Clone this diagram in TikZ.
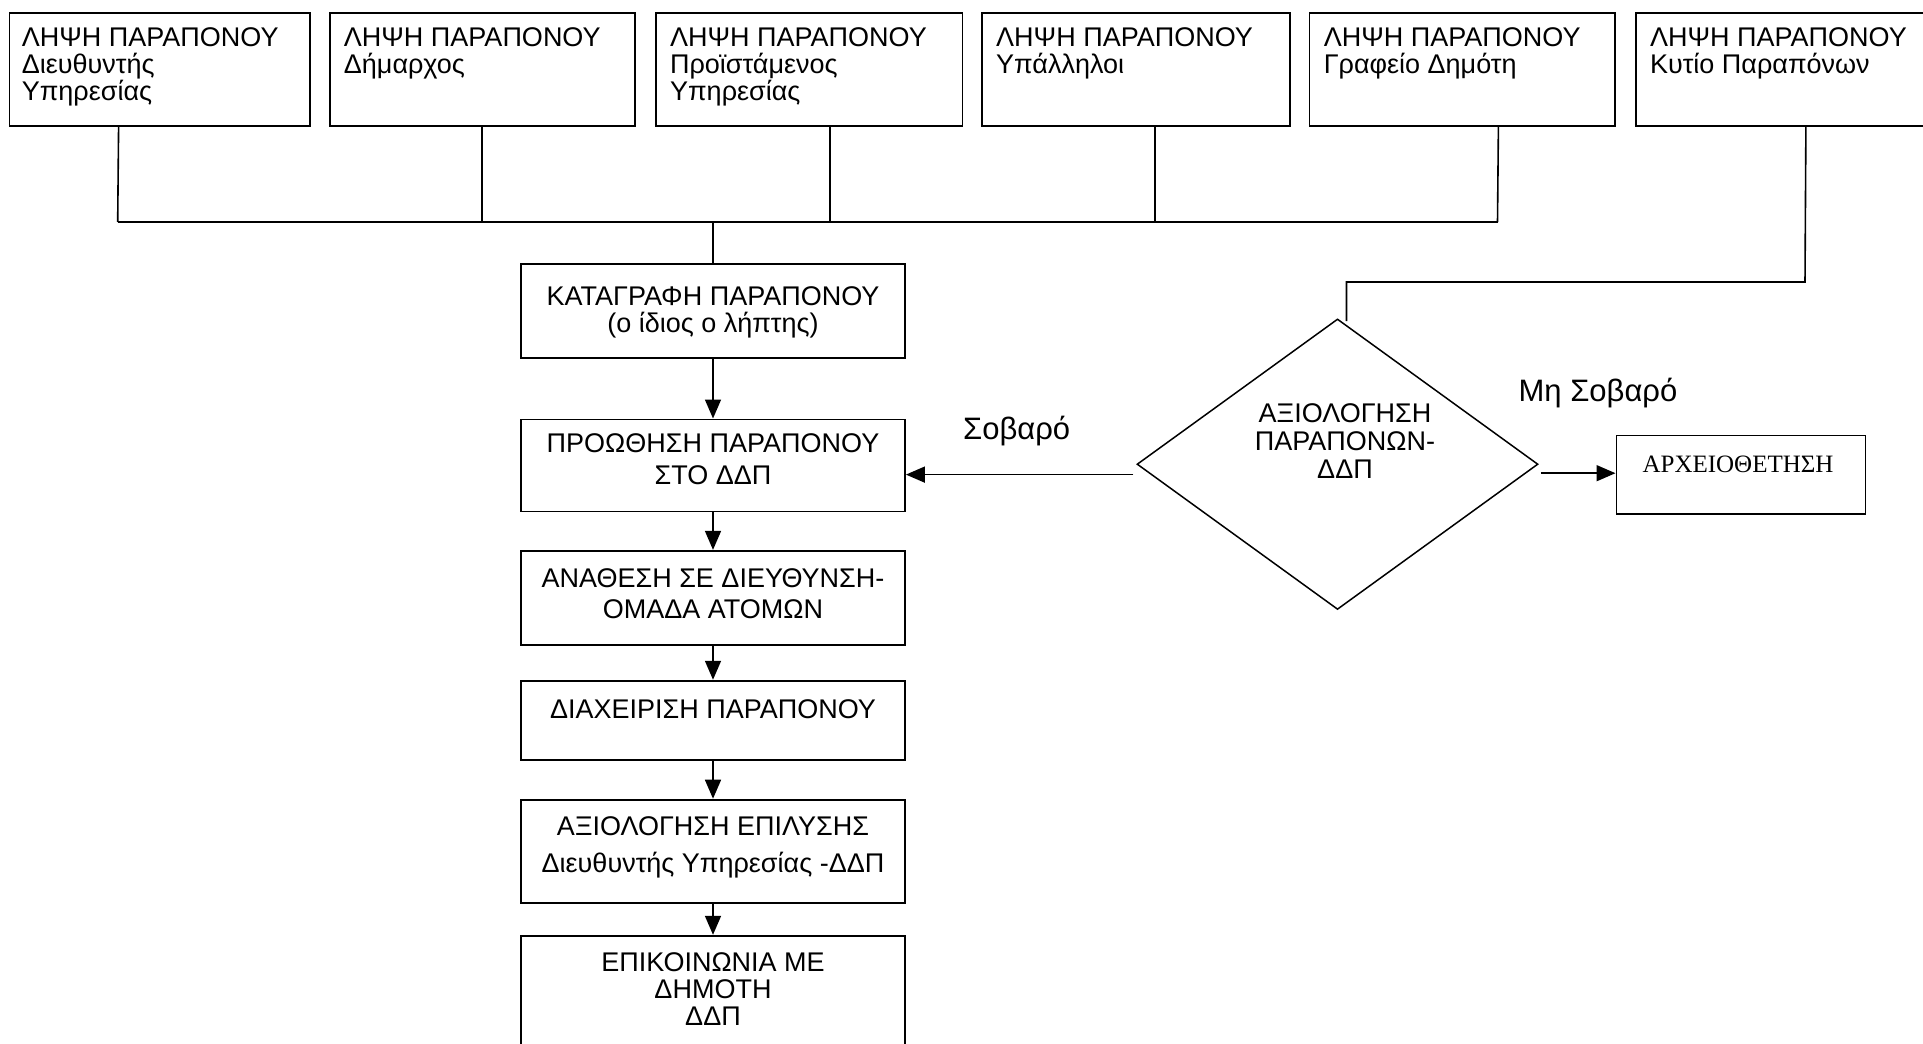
\documentclass[tikz,border=0pt]{standalone}
\usepackage{fontspec}
\setmainfont{Liberation Sans}
\newfontfamily\serifgr{Liberation Serif}
\usetikzlibrary{arrows.meta,shapes.geometric}
\begin{document}
\begin{tikzpicture}[x=1pt,y=-1pt,
  box/.style={draw,line width=1.8pt,inner sep=0pt,anchor=north west,minimum height=112.8pt},
  mbox/.style={draw,line width=1.8pt,inner sep=0pt,minimum width=384pt},
  txt/.style={inner sep=0pt,font=\fontsize{27}{27}\selectfont},
  ttxt/.style={txt,anchor=north west,align=left},
  mtxt/.style={txt,anchor=north,align=center},
  lbl/.style={inner sep=0pt,anchor=base,font=\fontsize{31}{31}\selectfont},
  conn/.style={line width=1.6pt},
  bus/.style={line width=2.4pt},
  arr/.style={line width=1.6pt,-{Triangle[length=19pt,width=16pt]}}]
\useasboundingbox (0,0) rectangle (1923,1044);
% top boxes
\node[box,minimum width=300.4pt] (r1) at (8.6,12.3) {};
\node[box,minimum width=305.3pt] (r2) at (328.7,12.3) {};
\node[box,minimum width=306.6pt] (r3) at (654.9,12.3) {};
\node[box,minimum width=308pt] (r4) at (981,12.3) {};
\node[box,minimum width=305.4pt] (r5) at (1308.6,12.3) {};
\node[box,minimum width=306pt] (r6) at (1634.8,12.3) {};
\node[ttxt] (t1) at ([xshift=13pt,yshift=-14.7pt]r1.north west) {ΛΗΨΗ ΠΑΡΑΠΟΝΟΥ\\Διευθυντής\\Υπηρεσίας};
\node[ttxt] (t2) at ([xshift=15pt,yshift=-14.7pt]r2.north west) {ΛΗΨΗ ΠΑΡΑΠΟΝΟΥ\\Δήμαρχος};
\node[ttxt] (t3) at ([xshift=15pt,yshift=-14.7pt]r3.north west) {ΛΗΨΗ ΠΑΡΑΠΟΝΟΥ\\Προϊστάμενος\\Υπηρεσίας};
\node[ttxt] (t4) at ([xshift=15pt,yshift=-14.7pt]r4.north west) {ΛΗΨΗ ΠΑΡΑΠΟΝΟΥ\\Υπάλληλοι};
\node[ttxt] (t5) at ([xshift=15pt,yshift=-14.7pt]r5.north west) {ΛΗΨΗ ΠΑΡΑΠΟΝΟΥ\\Γραφείο Δημότη};
\node[ttxt] (t6) at ([xshift=15pt,yshift=-14.7pt]r6.north west) {ΛΗΨΗ ΠΑΡΑΠΟΝΟΥ\\Κυτίο Παραπόνων};
% drop points
\coordinate (d1) at ([xshift=-41.1pt]r1.south);
\coordinate (d3) at ([xshift=20.8pt]r3.south);
\coordinate (d4) at ([xshift=19pt]r4.south);
\coordinate (d5) at ([xshift=36.2pt]r5.south);
\coordinate (d6) at ([xshift=17.2pt]r6.south);
\coordinate (b1) at (117.7,222);
\coordinate (b5) at (1497.5,222);
% main boxes
\node[mbox,minimum height=94.3pt] (k1) at (713,310.9) {};
\node[mbox,minimum height=92pt] (k2) at (713,465.4) {};
\node[mbox,minimum height=94.3pt] (k3) at (713,597.9) {};
\node[mbox,minimum height=79.7pt] (k4) at (713,720.5) {};
\node[mbox,minimum height=103pt] (k5) at (713,851.1) {};
\node[mbox,minimum height=140pt] (k6) at (713,1005.7) {};
\node[mtxt] (k1t) at (713,286) {ΚΑΤΑΓΡΑΦΗ ΠΑΡΑΠΟΝΟΥ\\(ο ίδιος ο λήπτης)};
\node[mtxt] (k2t) at (713,433) {ΠΡΟΩΘΗΣΗ ΠΑΡΑΠΟΝΟΥ\\[5pt]ΣΤΟ ΔΔΠ};
\node[mtxt] (k3t) at (713,568) {ΑΝΑΘΕΣΗ ΣΕ ΔΙΕΥΘΥΝΣΗ-\\[4pt]ΟΜΑΔΑ ΑΤΟΜΩΝ};
\node[mtxt] (k4t) at (713,699) {ΔΙΑΧΕΙΡΙΣΗ ΠΑΡΑΠΟΝΟΥ};
\node[mtxt] (k5t) at (713,816) {ΑΞΙΟΛΟΓΗΣΗ ΕΠΙΛΥΣΗΣ\\[10pt]Διευθυντής Υπηρεσίας -ΔΔΠ};
\node[mtxt] (k6t) at (713,952) {ΕΠΙΚΟΙΝΩΝΙΑ ΜΕ\\ΔΗΜΟΤΗ\\ΔΔΠ};
% decision
\node[diamond,draw,line width=1.5pt,minimum width=401pt,minimum height=290.5pt,inner sep=0pt] (d) at (1337.5,464.2) {};
\node[mtxt] (dt) at (1345,403) {ΑΞΙΟΛΟΓΗΣΗ\\[1pt]ΠΑΡΑΠΟΝΩΝ-\\[1pt]ΔΔΠ};
\node[draw,line width=1.8pt,inner sep=0pt,minimum width=249pt,minimum height=78.5pt] (arx) at (1740.9,474.65) {};
\node[inner sep=0pt,font=\serifgr\fontsize{25}{25}\selectfont] (arxt) at (1738,464.8) {ΑΡΧΕΙΟΘΕΤΗΣΗ};
\node[lbl] (s1) at (1016.7,439) {Σοβαρό};
\node[lbl] (s2) at (1598,401) {Μη Σοβαρό};
% connectors
\draw[conn] (d1) -- (b1);
\draw[bus] (b1) -- (b5);
\draw[conn] (d5) -- (b5);
\draw[conn] (r2.south) -- (r2.south |- b1);
\draw[conn] (d3) -- (d3 |- b1);
\draw[conn] (d4) -- (d4 |- b1);
\draw[conn] (k1.north |- b1) -- (k1.north);
\draw[conn] (d6) -- (1805,282) -| ([xshift=9pt,yshift=-3pt]d.north);
\draw[arr] (k1.south) -- (k2.north);
\draw[arr] (k2.south) -- (k3.north);
\draw[arr] (k3.south) -- (k4.north);
\draw[arr] (k4.south) -- (k5.north);
\draw[arr] (k5.south) -- (k6.north);
\draw[arr] ([xshift=-3pt,yshift=-10.4pt]d.west) -- ([yshift=-10.4pt]d.west -| k2.east);
\draw[arr] ([xshift=2pt,yshift=-9pt]d.east) -- ([yshift=-9pt]d.east -| arx.west);
\end{tikzpicture}
\end{document}
